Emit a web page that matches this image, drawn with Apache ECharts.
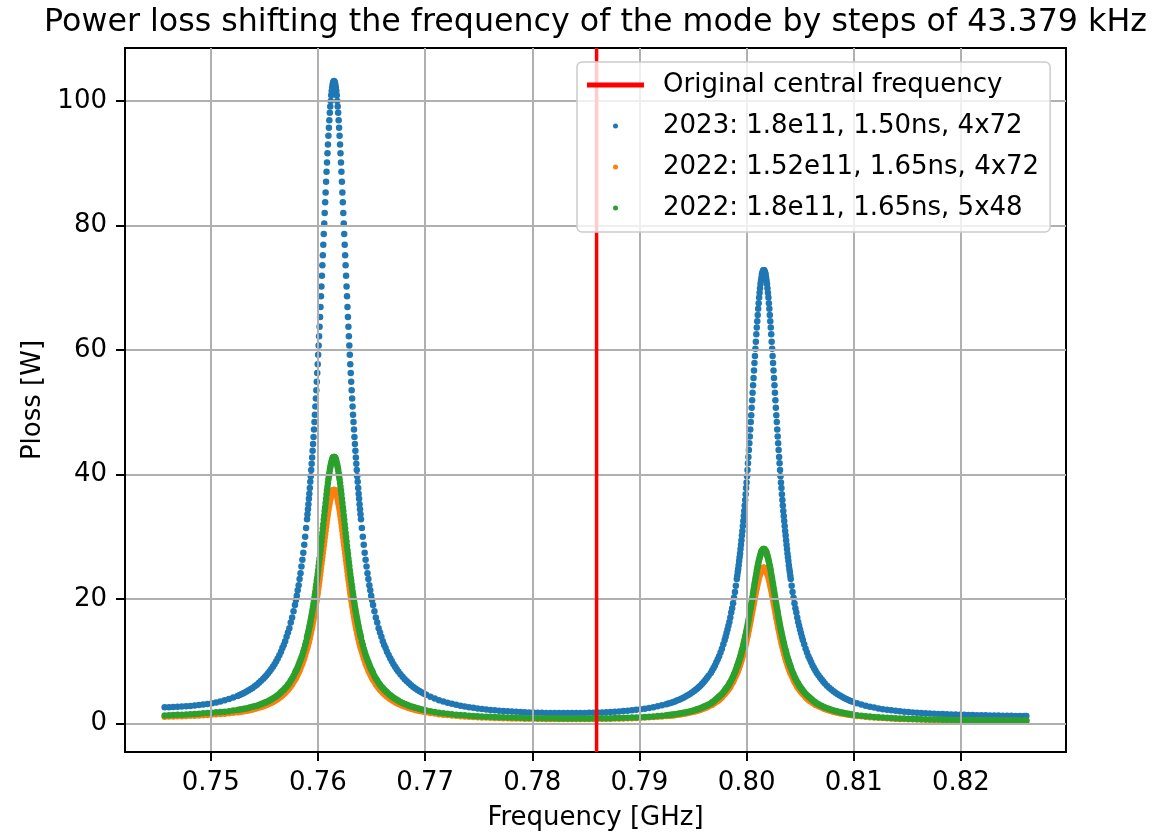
<!DOCTYPE html>
<html>
<head>
<meta charset="utf-8">
<script src="https://cdn.jsdelivr.net/npm/echarts@6/dist/echarts.min.js"></script>
<style>
html, body { margin: 0; padding: 0; background: #ffffff; }
#chart { width: 1171px; height: 836px; }
</style>
</head>
<body>
<div id="chart"></div>
<script>
// ---------------- data ----------------
const chartTitle = 'Power loss shifting the frequency of the mode by steps of 43.379 kHz';
const xAxisLabel = 'Frequency [GHz]';
const yAxisLabel = 'Ploss [W]';
const centralFreqLabel = 'Original central frequency';
const seriesNames = ['2023: 1.8e11, 1.50ns, 4x72', '2022: 1.52e11, 1.65ns, 4x72', '2022: 1.8e11, 1.65ns, 5x48'];
const centralFreqGHz = 0.786;
const xTicks = [0.75, 0.76, 0.77, 0.78, 0.79, 0.80, 0.81, 0.82];
const yTicks = [0, 20, 40, 60, 80, 100];
const xRange = [0.742, 0.8298];
const yRange = [-4.6, 108.5];

// frequency of each sample, MHz
const freqMHz = [
745.7,746.1,746.5,746.9,747.3,747.7,748.1,748.5,748.9,749.3,749.7,750.1,750.5,750.9,751.3,751.7,752.1,752.5,
752.7,752.9,753.1,753.3,753.5,753.7,753.9,754.1,754.3,754.5,754.7,754.9,
755.05,755.2,755.35,755.5,755.65,755.8,755.95,756.1,756.25,756.4,
756.555,756.685,756.815,756.945,757.075,757.205,757.336,757.466,757.596,757.726,
757.856,757.943,758.030,758.116,758.203,758.290,758.377,758.463,758.550,758.637,758.724,758.811,758.897,
758.984,759.027,759.071,759.114,759.158,759.201,759.244,759.288,759.331,759.374,759.418,759.461,759.505,759.548,759.591,759.635,759.678,759.721,759.765,759.808,759.852,759.895,759.938,759.982,760.025,760.068,760.112,760.155,760.199,760.242,760.285,760.329,760.372,760.416,760.459,760.502,760.546,760.589,760.632,760.676,760.719,760.763,760.806,760.849,760.893,760.936,760.979,761.023,761.066,761.110,761.153,761.196,761.240,761.283,761.326,761.370,761.413,761.457,
761.500,
761.543,761.587,761.630,761.674,761.717,761.760,761.804,761.847,761.890,761.934,761.977,762.021,762.064,762.107,762.151,762.194,762.237,762.281,762.324,762.368,762.411,762.454,762.498,762.541,762.584,762.628,762.671,762.715,762.758,762.801,762.845,762.888,762.932,762.975,763.018,763.062,763.105,763.148,763.192,763.235,763.279,763.322,763.365,763.409,763.452,763.495,763.539,763.582,763.626,763.669,763.712,763.756,763.799,763.842,763.886,763.929,763.973,764.016,
764.103,764.189,764.276,764.363,764.450,764.537,764.623,764.710,764.797,764.884,764.970,765.057,765.144,
765.274,765.404,765.534,765.664,765.795,765.925,766.055,766.185,766.315,766.445,
766.6,766.75,766.9,767.05,767.2,767.35,767.5,767.7,767.9,768.1,768.3,768.5,768.7,768.9,769.1,769.3,769.5,769.7,769.9,770.1,
770.5,770.9,771.3,771.7,772.1,772.5,772.9,773.3,773.7,774.1,774.5,774.9,775.3,775.7,776.1,776.5,776.9,777.3,777.7,778.1,778.5,778.9,779.3,779.7,780.1,780.5,780.9,781.3,781.7,782.1,782.5,782.9,783.3,783.7,784.1,784.5,784.9,785.3,785.7,786.1,786.5,786.9,787.3,787.7,788.1,788.5,788.9,789.3,789.7,790.1,790.5,790.9,791.3,791.7,792.1,792.5,
792.7,792.9,793.1,793.3,793.5,793.7,793.9,794.1,794.3,794.5,794.7,794.9,795.1,
795.25,795.4,795.55,795.7,795.85,796.0,796.15,796.3,796.45,
796.655,796.785,796.915,797.045,797.175,797.305,797.436,797.566,797.696,797.826,
797.956,798.043,798.130,798.216,798.303,798.390,798.477,798.563,798.650,798.737,798.824,798.911,798.997,
799.084,799.127,799.171,799.214,799.258,799.301,799.344,799.388,799.431,799.474,799.518,799.561,799.605,799.648,799.691,799.735,799.778,799.821,799.865,799.908,799.952,799.995,800.038,800.082,800.125,800.168,800.212,800.255,800.299,800.342,800.385,800.429,800.472,800.516,800.559,800.602,800.646,800.689,800.732,800.776,800.819,800.863,800.906,800.949,800.993,801.036,801.079,801.123,801.166,801.210,801.253,801.296,801.340,801.383,801.426,801.470,801.513,801.557,
801.600,
801.643,801.687,801.730,801.774,801.817,801.860,801.904,801.947,801.990,802.034,802.077,802.121,802.164,802.207,802.251,802.294,802.337,802.381,802.424,802.468,802.511,802.554,802.598,802.641,802.684,802.728,802.771,802.815,802.858,802.901,802.945,802.988,803.032,803.075,803.118,803.162,803.205,803.248,803.292,803.335,803.379,803.422,803.465,803.509,803.552,803.595,803.639,803.682,803.726,803.769,803.812,803.856,803.899,803.942,803.986,804.029,804.073,804.116,
804.203,804.289,804.376,804.463,804.550,804.637,804.723,804.810,804.897,804.984,805.070,805.157,805.244,
805.374,805.504,805.634,805.764,805.895,806.025,806.155,806.285,806.415,806.545,
806.7,806.85,807.0,807.15,807.3,807.5,807.7,807.9,808.1,808.3,808.5,808.7,808.9,809.1,809.3,809.5,809.7,809.9,
810.3,810.7,811.1,811.5,811.9,812.3,812.7,813.1,813.5,813.9,814.3,814.7,815.1,815.5,815.9,816.3,816.7,817.1,817.5,817.9,818.3,818.7,819.1,819.5,819.9,820.3,820.7,821.1,821.5,821.9,822.3,822.7,823.1,823.5,823.9,824.3,824.7,825.1,825.5,825.9,826.1
];

// 2023: 1.8e11, 1.50ns, 4x72  [W]
const ploss2023 = [
2.57,2.59,2.63,2.66,2.70,2.75,2.80,2.86,2.94,3.02,3.12,3.23,3.37,3.53,3.71,3.91,4.15,4.41,
4.56,4.72,4.89,5.07,5.27,5.48,5.70,5.95,6.22,6.51,6.83,7.17,
7.44,7.73,8.04,8.37,8.72,9.10,9.51,9.95,10.44,10.95,
11.5,12.1,12.6,13.2,13.9,14.6,15.3,16.2,17.0,18.0,
19.0,19.8,20.5,21.4,22.2,23.2,24.1,25.2,26.3,27.4,28.7,30.0,31.4,
32.8,33.6,34.4,35.2,36.1,36.9,37.8,38.8,39.7,40.7,41.7,42.7,43.8,44.9,46.0,47.2,48.4,49.6,50.9,52.2,53.5,54.9,56.3,57.7,59.2,60.7,62.2,63.7,65.3,66.9,68.6,70.2,71.9,73.6,75.2,76.9,78.6,80.3,82.0,83.7,85.3,87.0,88.6,90.1,91.6,93.0,94.4,95.7,96.9,98.1,99.1,100.0,100.9,101.6,102.1,102.6,102.9,103.1,
103.2,
103.1,102.9,102.6,102.1,101.6,100.9,100.0,99.1,98.1,96.9,95.7,94.4,93.0,91.6,90.1,88.6,87.0,85.3,83.7,82.0,80.3,78.6,76.9,75.2,73.6,71.9,70.2,68.6,66.9,65.3,63.7,62.2,60.7,59.2,57.7,56.3,54.9,53.5,52.2,50.9,49.6,48.4,47.2,46.0,44.9,43.8,42.7,41.7,40.7,39.7,38.8,37.8,36.9,36.1,35.2,34.4,33.6,32.8,
31.4,30.0,28.7,27.4,26.3,25.2,24.1,23.2,22.2,21.4,20.5,19.8,19.0,
18.0,17.0,16.2,15.3,14.6,13.9,13.2,12.6,12.1,11.5,
10.97,10.45,9.96,9.51,9.09,8.70,8.34,7.89,7.48,7.10,6.75,6.43,6.14,5.86,5.61,5.38,5.16,4.95,4.76,4.59,
4.26,3.98,3.73,3.51,3.31,3.14,2.98,2.84,2.71,2.59,2.49,2.40,2.31,2.23,2.16,2.10,2.04,1.99,1.94,1.89,1.86,1.82,1.79,1.76,1.74,1.71,1.70,1.68,1.67,1.66,1.65,1.65,1.65,1.65,1.66,1.67,1.68,1.69,1.71,1.73,1.76,1.79,1.83,1.87,1.92,1.97,2.03,2.10,2.17,2.26,2.36,2.47,2.59,2.74,2.90,3.08,
3.18,3.29,3.41,3.53,3.66,3.81,3.96,4.13,4.31,4.51,4.72,4.95,5.20,
5.41,5.62,5.85,6.10,6.37,6.65,6.96,7.29,7.65,
8.1,8.5,8.9,9.3,9.8,10.3,10.8,11.4,12.0,12.7,
13.4,13.9,14.5,15.1,15.7,16.3,17.0,17.8,18.5,19.3,20.2,21.1,22.1,
23.2,23.7,24.3,24.8,25.4,26.1,26.7,27.3,28.0,28.7,29.4,30.2,30.9,31.7,32.5,33.3,34.1,35.0,35.9,36.8,37.8,38.7,39.7,40.7,41.8,42.8,43.9,45.0,46.1,47.2,48.4,49.5,50.7,51.9,53.1,54.3,55.5,56.7,57.9,59.0,60.2,61.3,62.5,63.6,64.6,65.6,66.6,67.5,68.4,69.2,69.9,70.6,71.1,71.6,72.1,72.4,72.6,72.8,
72.8,
72.8,72.6,72.4,72.1,71.6,71.1,70.6,69.9,69.2,68.4,67.5,66.6,65.6,64.6,63.6,62.5,61.3,60.2,59.0,57.9,56.7,55.5,54.3,53.1,51.9,50.7,49.5,48.4,47.2,46.1,45.0,43.9,42.8,41.8,40.7,39.7,38.7,37.8,36.8,35.9,35.0,34.1,33.3,32.5,31.7,30.9,30.2,29.4,28.7,28.0,27.3,26.7,26.1,25.4,24.8,24.3,23.7,23.2,
22.1,21.1,20.2,19.3,18.5,17.8,17.0,16.3,15.7,15.1,14.5,13.9,13.4,
12.7,12.0,11.4,10.8,10.3,9.8,9.3,8.9,8.5,8.1,
7.74,7.37,7.03,6.72,6.42,6.06,5.74,5.44,5.16,4.91,4.68,4.47,4.27,4.09,3.92,3.76,3.61,3.48,
3.24,3.02,2.84,2.67,2.53,2.40,2.28,2.18,2.09,2.01,1.93,1.87,1.81,1.75,1.70,1.66,1.62,1.58,1.55,1.52,1.49,1.47,1.44,1.42,1.40,1.38,1.36,1.34,1.32,1.30,1.29,1.27,1.26,1.25,1.23,1.22,1.21,1.20,1.19,1.18,1.18
];

// 2022: 1.52e11, 1.65ns, 4x72  [W]
const ploss2022a = [
1.07,1.10,1.11,1.14,1.15,1.18,1.21,1.24,1.27,1.32,1.35,1.41,1.45,1.50,1.55,1.61,1.70,1.78,
1.83,1.90,1.95,2.02,2.08,2.16,2.24,2.33,2.42,2.53,2.63,2.76,
2.86,2.96,3.07,3.19,3.32,3.45,3.60,3.76,3.93,4.11,
4.3,4.5,4.7,4.9,5.2,5.4,5.7,6.0,6.3,6.7,
7.0,7.3,7.6,7.9,8.2,8.5,8.9,9.3,9.6,10.1,10.5,11.0,11.5,
12.0,12.3,12.6,12.9,13.2,13.5,13.8,14.2,14.5,14.9,15.2,15.6,16.0,16.4,16.8,17.2,17.7,18.1,18.6,19.0,19.5,20.0,20.5,21.0,21.6,22.1,22.7,23.2,23.8,24.4,25.0,25.6,26.2,26.8,27.4,28.0,28.6,29.2,29.8,30.4,31.0,31.6,32.2,32.8,33.3,33.8,34.3,34.8,35.2,35.6,36.0,36.4,36.6,36.9,37.1,37.3,37.4,37.5,
37.5,
37.5,37.4,37.3,37.1,36.9,36.6,36.4,36.0,35.6,35.2,34.8,34.3,33.8,33.3,32.8,32.2,31.6,31.0,30.4,29.8,29.2,28.6,28.0,27.4,26.8,26.2,25.6,25.0,24.4,23.8,23.2,22.7,22.1,21.6,21.0,20.5,20.0,19.5,19.0,18.6,18.1,17.7,17.2,16.8,16.4,16.0,15.6,15.2,14.9,14.5,14.2,13.8,13.5,13.2,12.9,12.6,12.3,12.0,
11.5,11.0,10.5,10.1,9.6,9.3,8.9,8.5,8.2,7.9,7.6,7.3,7.0,
6.7,6.3,6.0,5.7,5.4,5.2,4.9,4.7,4.5,4.3,
4.11,3.92,3.74,3.58,3.43,3.29,3.15,2.99,2.84,2.70,2.58,2.46,2.36,2.26,2.16,2.08,2.00,1.93,1.86,1.79,
1.68,1.57,1.48,1.40,1.33,1.26,1.21,1.15,1.11,1.06,1.03,0.99,0.96,0.93,0.90,0.88,0.86,0.84,0.82,0.80,0.79,0.78,0.76,0.75,0.74,0.73,0.73,0.72,0.71,0.71,0.71,0.70,0.70,0.70,0.70,0.71,0.71,0.71,0.72,0.73,0.73,0.74,0.75,0.77,0.78,0.80,0.82,0.84,0.87,0.90,0.93,0.97,1.01,1.06,1.11,1.17,
1.21,1.24,1.28,1.32,1.37,1.42,1.47,1.53,1.59,1.66,1.73,1.81,1.89,
1.96,2.04,2.11,2.20,2.29,2.39,2.49,2.60,2.73,
2.9,3.0,3.2,3.3,3.5,3.6,3.8,4.0,4.2,4.5,
4.7,4.9,5.1,5.3,5.5,5.7,5.9,6.2,6.5,6.7,7.0,7.4,7.7,
8.0,8.2,8.4,8.6,8.8,9.0,9.2,9.5,9.7,9.9,10.2,10.4,10.7,11.0,11.2,11.5,11.8,12.1,12.4,12.7,13.0,13.4,13.7,14.0,14.4,14.8,15.1,15.5,15.9,16.3,16.7,17.0,17.5,17.9,18.3,18.7,19.1,19.5,19.9,20.3,20.7,21.1,21.5,21.8,22.2,22.6,22.9,23.2,23.5,23.8,24.0,24.2,24.4,24.6,24.7,24.9,24.9,25.0,
25.0,
25.0,24.9,24.9,24.7,24.6,24.4,24.2,24.0,23.8,23.5,23.2,22.9,22.6,22.2,21.8,21.5,21.1,20.7,20.3,19.9,19.5,19.1,18.7,18.3,17.9,17.5,17.0,16.7,16.3,15.9,15.5,15.1,14.8,14.4,14.0,13.7,13.4,13.0,12.7,12.4,12.1,11.8,11.5,11.2,11.0,10.7,10.4,10.2,9.9,9.7,9.5,9.2,9.0,8.8,8.6,8.4,8.2,8.0,
7.7,7.4,7.0,6.7,6.5,6.2,5.9,5.7,5.5,5.3,5.1,4.9,4.7,
4.5,4.2,4.0,3.8,3.6,3.5,3.3,3.2,3.0,2.9,
2.77,2.65,2.53,2.42,2.32,2.19,2.08,1.98,1.88,1.79,1.71,1.64,1.57,1.50,1.45,1.39,1.34,1.29,
1.20,1.13,1.06,1.00,0.95,0.90,0.86,0.82,0.78,0.75,0.72,0.70,0.67,0.65,0.63,0.61,0.59,0.58,0.56,0.55,0.54,0.52,0.51,0.50,0.49,0.48,0.48,0.47,0.46,0.45,0.44,0.44,0.43,0.43,0.42,0.42,0.41,0.41,0.40,0.40,0.39
];

// 2022: 1.8e11, 1.65ns, 5x48  [W]
const ploss2022b = [
1.28,1.31,1.34,1.37,1.40,1.43,1.47,1.51,1.56,1.61,1.66,1.72,1.77,1.82,1.88,1.96,2.05,2.16,
2.21,2.27,2.33,2.40,2.48,2.57,2.66,2.75,2.85,2.97,3.10,3.23,
3.34,3.45,3.57,3.70,3.84,4.00,4.16,4.33,4.52,4.73,
5.0,5.2,5.4,5.7,5.9,6.2,6.5,6.9,7.2,7.6,
8.1,8.4,8.7,9.0,9.4,9.8,10.2,10.6,11.0,11.5,12.0,12.6,13.1,
13.8,14.1,14.4,14.7,15.1,15.5,15.8,16.2,16.6,17.0,17.4,17.8,18.3,18.7,19.2,19.7,20.2,20.7,21.2,21.8,22.3,22.9,23.4,24.0,24.6,25.3,25.9,26.5,27.2,27.8,28.5,29.2,29.9,30.6,31.3,32.0,32.7,33.4,34.1,34.7,35.4,36.1,36.8,37.4,38.0,38.6,39.2,39.7,40.2,40.7,41.1,41.5,41.8,42.1,42.4,42.6,42.7,42.8,
42.8,
42.8,42.7,42.6,42.4,42.1,41.8,41.5,41.1,40.7,40.2,39.7,39.2,38.6,38.0,37.4,36.8,36.1,35.4,34.7,34.1,33.4,32.7,32.0,31.3,30.6,29.9,29.2,28.5,27.8,27.2,26.5,25.9,25.3,24.6,24.0,23.4,22.9,22.3,21.8,21.2,20.7,20.2,19.7,19.2,18.7,18.3,17.8,17.4,17.0,16.6,16.2,15.8,15.5,15.1,14.7,14.4,14.1,13.8,
13.1,12.6,12.0,11.5,11.0,10.6,10.2,9.8,9.4,9.0,8.7,8.4,8.1,
7.6,7.2,6.9,6.5,6.2,5.9,5.7,5.4,5.2,5.0,
4.73,4.51,4.31,4.12,3.95,3.79,3.64,3.45,3.28,3.12,2.98,2.85,2.72,2.61,2.50,2.41,2.31,2.23,2.15,2.08,
1.94,1.82,1.72,1.62,1.54,1.47,1.40,1.34,1.29,1.24,1.19,1.15,1.11,1.08,1.05,1.02,0.99,0.97,0.95,0.93,0.91,0.89,0.88,0.86,0.85,0.84,0.83,0.82,0.82,0.81,0.80,0.80,0.80,0.80,0.80,0.80,0.80,0.80,0.81,0.81,0.82,0.83,0.84,0.86,0.87,0.89,0.91,0.94,0.96,1.00,1.03,1.07,1.12,1.17,1.23,1.30,
1.34,1.38,1.42,1.47,1.52,1.57,1.63,1.69,1.76,1.84,1.92,2.00,2.10,
2.17,2.26,2.35,2.44,2.54,2.65,2.77,2.89,3.03,
3.2,3.4,3.5,3.7,3.9,4.1,4.3,4.5,4.7,5.0,
5.3,5.5,5.7,5.9,6.1,6.4,6.6,6.9,7.2,7.5,7.9,8.2,8.6,
9.0,9.2,9.4,9.6,9.9,10.1,10.3,10.6,10.8,11.1,11.4,11.7,11.9,12.2,12.6,12.9,13.2,13.5,13.9,14.2,14.6,14.9,15.3,15.7,16.1,16.5,16.9,17.3,17.8,18.2,18.6,19.1,19.5,20.0,20.4,20.9,21.4,21.8,22.3,22.7,23.2,23.6,24.0,24.5,24.9,25.3,25.6,26.0,26.3,26.6,26.9,27.1,27.4,27.6,27.7,27.8,27.9,28.0,
28.0,
28.0,27.9,27.8,27.7,27.6,27.4,27.1,26.9,26.6,26.3,26.0,25.6,25.3,24.9,24.5,24.0,23.6,23.2,22.7,22.3,21.8,21.4,20.9,20.4,20.0,19.5,19.1,18.6,18.2,17.8,17.3,16.9,16.5,16.1,15.7,15.3,14.9,14.6,14.2,13.9,13.5,13.2,12.9,12.6,12.2,11.9,11.7,11.4,11.1,10.8,10.6,10.3,10.1,9.9,9.6,9.4,9.2,9.0,
8.6,8.2,7.9,7.5,7.2,6.9,6.6,6.4,6.1,5.9,5.7,5.5,5.3,
5.0,4.7,4.5,4.3,4.1,3.9,3.7,3.5,3.4,3.2,
3.07,2.93,2.80,2.68,2.56,2.42,2.30,2.18,2.07,1.98,1.89,1.80,1.73,1.66,1.59,1.53,1.47,1.42,
1.32,1.24,1.16,1.10,1.04,0.99,0.94,0.90,0.86,0.83,0.80,0.77,0.74,0.72,0.70,0.68,0.66,0.64,0.63,0.61,0.60,0.59,0.57,0.56,0.55,0.54,0.54,0.53,0.52,0.51,0.51,0.50,0.50,0.49,0.48,0.48,0.48,0.47,0.47,0.46,0.46
];

// ---------------- chart ----------------
const FONT = 'DejaVu Sans';
const seriesColors = ['#1f77b4', '#ff7f0e', '#2ca02c'];
const seriesValues = [ploss2023, ploss2022a, ploss2022b];

function toPairs(values) {
  const n = Math.min(freqMHz.length, values.length);
  const out = [];
  for (let i = 0; i < n; i++) out.push([freqMHz[i] / 1000, values[i]]);
  return out;
}

const chart = echarts.init(document.getElementById('chart'), null, { renderer: 'canvas' });

const scatterSeries = seriesNames.map((name, i) => ({
  name: name,
  type: 'scatter',
  data: toPairs(seriesValues[i]),
  symbol: 'circle',
  symbolSize: 6.5,
  itemStyle: { color: seriesColors[i], opacity: 1 },
  z: 2,
  silent: true,
  progressive: 0,
  animation: false
}));

const option = {
  animation: false,
  backgroundColor: '#ffffff',
  textStyle: { fontFamily: FONT },
  title: {
    text: chartTitle,
    left: 595.5,
    top: 7,
    textAlign: 'center',
    padding: 0,
    textStyle: { fontFamily: FONT, fontSize: 31.7, fontWeight: 'normal', color: '#000000' }
  },
  grid: {
    left: 125, right: 105, top: 48, bottom: 84,
    show: true, borderColor: '#000000', borderWidth: 2, backgroundColor: 'transparent'
  },
  legend: {
    orient: 'vertical',
    left: 577, top: 62,
    padding: [8, 11, 9, 10],
    itemWidth: 57, itemHeight: 5, itemGap: 11,
    backgroundColor: 'rgba(255,255,255,0.8)',
    borderColor: '#cccccc', borderWidth: 1.5, borderRadius: 5,
    selectedMode: false,
    z: 10,
    textStyle: { fontFamily: FONT, fontSize: 26, color: '#000000', lineHeight: 30, padding: [0, 0, 0, 14] },
    data: [
      { name: centralFreqLabel, icon: 'rect', itemStyle: { color: '#ff0000' } },
      { name: seriesNames[0], icon: 'circle' },
      { name: seriesNames[1], icon: 'circle' },
      { name: seriesNames[2], icon: 'circle' }
    ]
  },
  xAxis: {
    type: 'value',
    min: xRange[0], max: xRange[1],
    z: 3,
    name: xAxisLabel, nameLocation: 'middle', nameGap: 53,
    nameTextStyle: { fontFamily: FONT, fontSize: 26, color: '#000000' },
    axisLine: { show: true, onZero: false, lineStyle: { color: '#000000', width: 2 } },
    axisTick: { show: true, customValues: xTicks, length: 9, lineStyle: { color: '#000000', width: 2 } },
    axisLabel: { customValues: xTicks, formatter: v => v.toFixed(2), margin: 18, fontFamily: FONT, fontSize: 26, color: '#000000' },
    splitLine: { show: true, lineStyle: { color: '#b0b0b0', width: 2 } }
  },
  yAxis: {
    type: 'value',
    min: yRange[0], max: yRange[1],
    z: 3,
    name: yAxisLabel, nameLocation: 'middle', nameGap: 76,
    nameTextStyle: { fontFamily: FONT, fontSize: 26, color: '#000000' },
    axisLine: { show: true, onZero: false, lineStyle: { color: '#000000', width: 2 } },
    axisTick: { show: true, customValues: yTicks, length: 9, lineStyle: { color: '#000000', width: 2 } },
    axisLabel: { customValues: yTicks, formatter: v => String(v), margin: 18, fontFamily: FONT, fontSize: 26, color: '#000000' },
    splitLine: { show: true, lineStyle: { color: '#b0b0b0', width: 2 } }
  },
  series: [
    {
      name: centralFreqLabel,
      type: 'line',
      data: [[centralFreqGHz, yRange[0]], [centralFreqGHz, yRange[1]]],
      showSymbol: false,
      symbol: 'none',
      itemStyle: { color: '#ff0000' },
      lineStyle: { color: '#ff0000', width: 3.5 },
      z: 5,
      silent: true,
      animation: false
    }
  ].concat(scatterSeries)
};

chart.setOption(option);

const lens = [freqMHz.length, ploss2023.length, ploss2022a.length, ploss2022b.length];
if (new Set(lens).size !== 1) {
  setTimeout(() => { throw new Error('length mismatch: ' + lens.join(',')); }, 0);
}
</script>
</body>
</html>
